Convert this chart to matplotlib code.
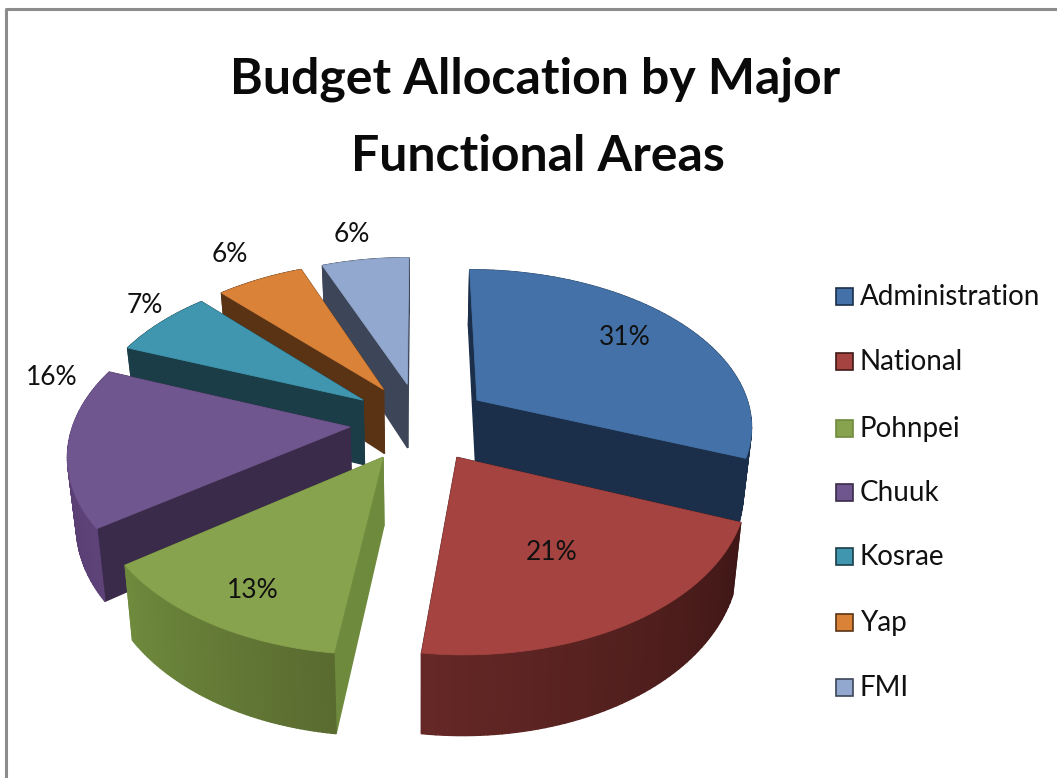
import numpy as np
import matplotlib
matplotlib.use("Agg")
import matplotlib.pyplot as plt
from matplotlib.colors import to_rgb
from matplotlib.patches import Polygon, Rectangle

# data
names = ["Administration", "National", "Pohnpei", "Chuuk", "Kosrae", "Yap", "FMI"]
values = [31, 21, 13, 16, 7, 6, 6]
pct_labels = ["31%", "21%", "13%", "16%", "7%", "6%", "6%"]

# colours
top_cols = ["#4472a8", "#a54340", "#87a34d", "#70568f", "#3f96ae", "#d98238", "#93a8cf"]
wall_cols = ["#1b2f4a", "#401a18", "#6e8a3c", "#3b2b4a", "#1b3d48", "#5a3315", "#3c4658"]
rim_start = ["#1b2f4a", "#3f1716", "#5a6b30", "#5e4379", "#1b3d48", "#5a3315", "#3c4658"]
rim_end = ["#1b2f4a", "#652826", "#6f8b3d", "#4e3566", "#1b3d48", "#5a3315", "#3c4658"]

# layout in pixels
label_xy = [(625, 337), (552, 553), (253, 590), (52, 377), (145, 305), (230, 254), (352, 234)]
legend_y = [297, 362, 429, 493, 557, 623, 688]
cx, cy = 420, 422
sx, sy = 276, 156
persp = 0.15
depth = 66
explode = 0.255


def project(X, Y, z=0.0):
    s = 1 / (1 + persp * Y)
    x = cx + sx * X * s * (1 - 0.025 * z)
    y = cy - sy * Y * s + depth * s * z
    return x, y


fig = plt.figure(figsize=(10.57, 7.78), dpi=100)
ax = fig.add_axes([0, 0, 1, 1])
ax.set_xlim(0, 1057)
ax.set_ylim(778, 0)
ax.axis("off")

# frame of the pasted picture
ax.plot([6, 6, 1057], [778, 9, 9], color="#8c8c8c", lw=2.2, solid_capstyle="butt")

edges = np.cumsum([0] + values) / sum(values) * 2 * np.pi
mids = (edges[:-1] + edges[1:]) / 2

# back slices first
for i in sorted(range(len(values)), key=lambda n: -np.cos(mids[n])):
    ox = explode * np.sin(mids[i])
    oy = explode * np.cos(mids[i])
    t = np.linspace(edges[i], edges[i + 1], 60)
    gx = ox + np.sin(t)
    gy = oy + np.cos(t)

    faces = []
    # two radial walls
    for a in (edges[i], edges[i + 1]):
        wx = [ox, ox + np.sin(a)]
        wy = [oy, oy + np.cos(a)]
        quad = [project(wx[0], wy[0]), project(wx[1], wy[1]),
                project(wx[1], wy[1], 1), project(wx[0], wy[0], 1)]
        faces.append((np.mean(wy), quad, wall_cols[i]))
    # rim, cut in strips for the shading
    c0, c1 = np.array(to_rgb(rim_start[i])), np.array(to_rgb(rim_end[i]))
    for j in range(len(t) - 1):
        quad = [project(gx[j], gy[j]), project(gx[j + 1], gy[j + 1]),
                project(gx[j + 1], gy[j + 1], 1), project(gx[j], gy[j], 1)]
        col = c0 + (c1 - c0) * j / (len(t) - 2)
        faces.append(((gy[j] + gy[j + 1]) / 2, quad, tuple(col)))
    for _, quad, col in sorted(faces, key=lambda f: -f[0]):
        ax.add_patch(Polygon(quad, closed=True, fc=col, ec=col, lw=1.0))

    top = [project(ox, oy)] + [project(a, b) for a, b in zip(gx, gy)]
    ax.add_patch(Polygon(top, closed=True, fc=top_cols[i], ec=top_cols[i], lw=0.6))

for txt, (x, y) in zip(pct_labels, label_xy):
    ax.text(x, y, txt, ha="center", va="center", fontsize=19, family="Lato", color="#111111")

for name, col, y in zip(names, top_cols, legend_y):
    ax.add_patch(Rectangle((836, y - 9), 17, 17, fc=col, ec=wall_cols[names.index(name)], lw=1.2))
    ax.text(860, y, name, ha="left", va="center", fontsize=20, family="Lato", color="#111111")

ax.text(535, 79, "Budget Allocation by Major", ha="center", va="center",
        fontsize=36, fontweight="bold", family="Lato", color="#0a0a0a")
ax.text(538, 156, "Functional Areas", ha="center", va="center",
        fontsize=36, fontweight="bold", family="Lato", color="#0a0a0a")

fig.savefig("out.png", dpi=100)
